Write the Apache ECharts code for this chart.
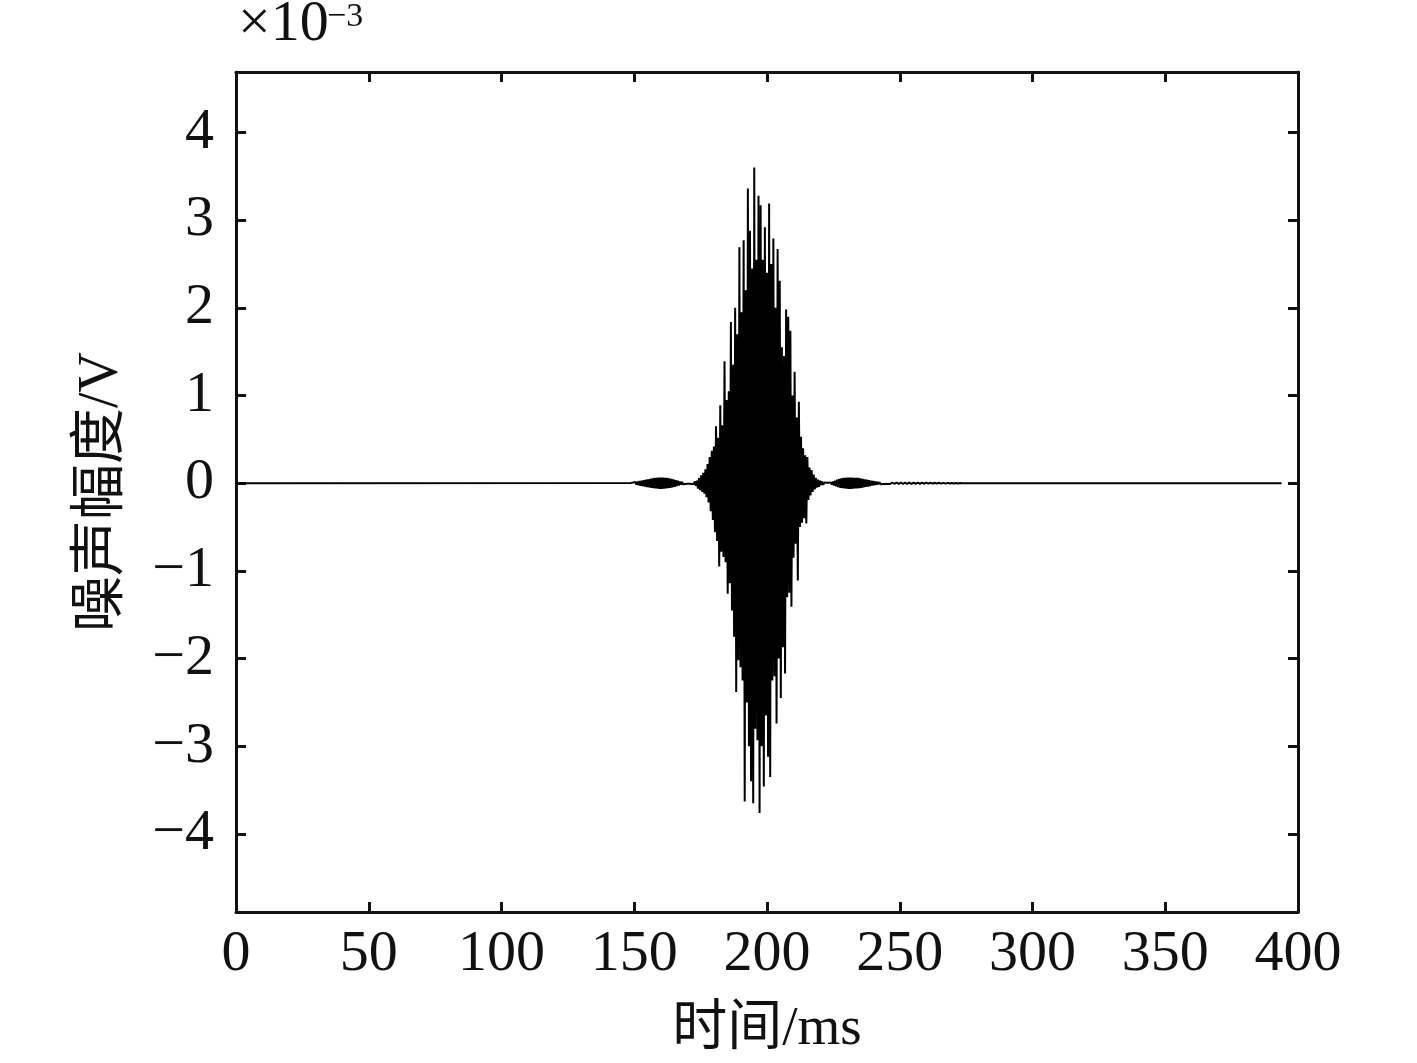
<!DOCTYPE html>
<html>
<head>
<meta charset="utf-8">
<script src="https://cdn.jsdelivr.net/npm/echarts@6/dist/echarts.min.js"></script>
<style>html,body{margin:0;padding:0;background:#fff}#c{width:1417px;height:1063px}</style>
</head>
<body>
<div id="c"></div>
<script>
// ---- data (values in units of 1e-3 V, time in ms) ----
const xTicks = [0, 50, 100, 150, 200, 250, 300, 350, 400];
const yTicks = [-4, -3, -2, -1, 0, 1, 2, 3, 4];
const signalStart = 0;
const signalEnd = 393.8;

// left side lobe, sampled every 0.4 ms from 148.8 ms
const leftLobeStart = 148.8, leftLobeStep = 0.4;
const leftLobe = [
 0.004,-0.006,0.008,-0.010,0.013,-0.016,0.019,-0.022,0.025,-0.028,
 0.030,-0.033,0.035,-0.038,0.040,-0.043,0.045,-0.048,0.050,-0.052,
 0.055,-0.057,0.060,-0.060,0.062,-0.063,0.065,-0.065,0.065,-0.065,
 0.065,-0.063,0.062,-0.060,0.060,-0.057,0.055,-0.052,0.050,-0.047,
 0.045,-0.040,0.035,-0.033,0.030,-0.025,0.020,-0.017,0.015,-0.012,
 0.010,-0.008,0.006,-0.005,0.005,-0.007,0.009,-0.010
];

// main burst, sampled every 0.4 ms from 172.0 ms
const burstStart = 172.0, burstStep = 0.4;
const burst = [
 0.01,-0.01,0.02,-0.03,0.03,-0.06,0.06,-0.08,0.09,-0.10,
 0.12,-0.12,0.16,-0.16,0.22,-0.22,0.30,-0.32,0.37,-0.42,
 0.42,-0.56,0.65,-0.66,0.52,-0.95,0.89,-0.78,0.66,-0.84,
 1.39,-0.90,0.95,-1.26,1.05,-1.14,1.84,-1.45,1.35,-1.75,
 2.00,-2.38,1.70,-2.02,2.69,-2.10,1.95,-2.25,2.77,-3.63,
 2.20,-2.50,3.36,-3.00,2.88,-3.40,2.45,-3.65,3.60,-2.80,
 2.55,-2.93,3.28,-3.76,3.17,-3.00,2.55,-3.46,2.92,-2.65,
 2.40,-3.12,3.19,-3.35,2.50,-2.25,2.79,-2.20,2.00,-2.74,
 2.67,-2.00,2.31,-2.45,1.55,-1.87,1.45,-2.17,1.98,-1.30,
 1.90,-1.25,1.74,-1.41,1.00,-0.85,1.27,-0.69,0.75,-1.11,
 0.93,-0.50,0.53,-0.45,0.40,-0.40,0.32,-0.46,0.30,-0.19,
 0.18,-0.14,0.15,-0.10,0.10,-0.07,0.06,-0.05,0.04,-0.04,
 0.03,-0.02,0.02,-0.02,0.01,-0.01
];

// right side lobe, sampled every 0.4 ms from 222.4 ms
const rightLobeStart = 222.4, rightLobeStep = 0.4;
const rightLobe = [
 0.005,-0.005,0.005,-0.007,0.010,-0.015,0.020,-0.025,0.030,-0.035,
 0.040,-0.045,0.050,-0.052,0.055,-0.057,0.060,-0.060,0.060,-0.062,
 0.065,-0.065,0.065,-0.065,0.065,-0.062,0.060,-0.060,0.060,-0.060,
 0.060,-0.057,0.055,-0.052,0.050,-0.047,0.045,-0.042,0.040,-0.037,
 0.035,-0.032,0.030,-0.027,0.025,-0.022,0.020,-0.017,0.015,-0.013,
 0.012,-0.011,0.010,-0.010,0.010,-0.009,0.009,-0.009,0.009
];

// slowly decaying tail, sampled every 0.8 ms from 246.4 ms
const tailStart = 246.4, tailStep = 0.8;
const tail = [
 -0.008,0.008,-0.008,0.008,-0.008,0.008,-0.007,0.007,-0.007,0.007,
 -0.007,0.007,-0.006,0.006,-0.006,0.006,-0.006,0.006,-0.005,0.005,
 -0.005,0.005,-0.005,0.005,-0.004,0.004,-0.004,0.004,-0.003,0.003,
 -0.003,0.003,-0.002,0.002,0
];

// ---- build series data ----
const data = [];
data.push([signalStart, 0]);
const addSeg = (start, step, vals) => vals.forEach((v, i) => data.push([+(start + i * step).toFixed(2), v]));
addSeg(leftLobeStart, leftLobeStep, leftLobe);
addSeg(burstStart, burstStep, burst);
addSeg(rightLobeStart, rightLobeStep, rightLobe);
addSeg(tailStart, tailStep, tail);
data.push([signalEnd, 0]);

const FONT = "'Liberation Serif', 'Times New Roman', 'Noto Sans CJK SC', serif";
const AX = '#111';

const chart = echarts.init(document.getElementById('c'), null, {renderer: 'canvas'});
const fmt = v => v < 0 ? '\u2212' + Math.abs(v) : String(v);

const baseAxisLine = {show: true, onZero: false, lineStyle: {color: AX, width: 3}};
const baseTick = {show: true, inside: true, length: 10, lineStyle: {color: AX, width: 3}};

chart.setOption({
  animation: false,
  backgroundColor: '#fff',
  grid: {left: 236, right: 119, top: 72, bottom: 151, containLabel: false, outerBoundsMode: 'none'},
  xAxis: [{
    type: 'value', min: 0, max: 400, interval: 50, position: 'bottom',
    name: '时间/ms', nameLocation: 'middle', nameGap: 90,
    nameTextStyle: {fontFamily: FONT, fontSize: 55, color: '#111'},
    axisLine: baseAxisLine, axisTick: baseTick, splitLine: {show: false},
    axisLabel: {fontFamily: FONT, fontSize: 58, color: '#111', margin: 14, formatter: fmt}
  }, {
    type: 'value', min: 0, max: 400, interval: 50, position: 'top',
    axisLine: baseAxisLine, axisTick: baseTick, splitLine: {show: false},
    axisLabel: {show: false}
  }],
  yAxis: [{
    type: 'value', min: -4.89, max: 4.69, position: 'left',
    name: '噪声幅度/V', nameLocation: 'middle', nameGap: 106, nameRotate: 90,
    nameTextStyle: {fontFamily: FONT, fontSize: 56, color: '#111'},
    axisLine: baseAxisLine,
    axisTick: Object.assign({customValues: yTicks}, baseTick),
    splitLine: {show: false},
    axisLabel: {fontFamily: FONT, fontSize: 58, color: '#111', margin: 22, formatter: fmt, customValues: yTicks}
  }, {
    type: 'value', min: -4.89, max: 4.69, position: 'right',
    axisLine: baseAxisLine,
    axisTick: Object.assign({customValues: yTicks}, baseTick),
    splitLine: {show: false},
    axisLabel: {show: false, customValues: yTicks}
  }],
  graphic: [
    {type: 'text', left: 238, top: -4, style: {text: '×10', fontFamily: FONT, fontSize: 58, fill: '#111'}},
    {type: 'text', left: 327, top: 0, style: {text: '\u22123', fontFamily: FONT, fontSize: 34, fill: '#111'}}
  ],
  series: [{
    type: 'line', xAxisIndex: 0, yAxisIndex: 0,
    data: data, showSymbol: false, symbol: 'none', sampling: null,
    lineStyle: {color: '#000', width: 2}, z: 1
  }]
});
</script>
</body>
</html>
